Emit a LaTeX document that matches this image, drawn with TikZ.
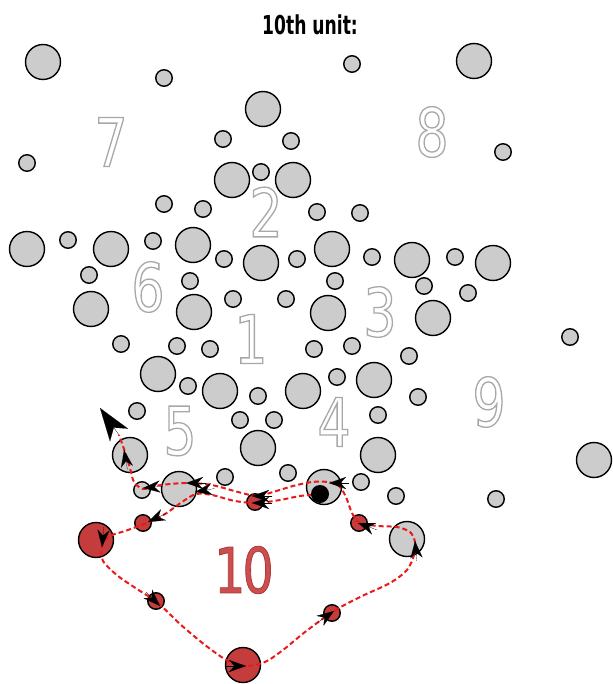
\documentclass[tikz,border=0pt]{standalone}
\usepackage{fontspec}
\usetikzlibrary{arrows.meta,calc}
\newfontfamily\titlefont[FakeStretch=0.66]{DejaVu Sans}
\newfontfamily\digitfont[FakeStretch=0.78]{DejaVu Sans}
\definecolor{cgray}{RGB}{204,204,204}
\definecolor{cred}{RGB}{196,60,60}
\definecolor{routered}{RGB}{235,25,25}
\definecolor{tenfill}{RGB}{205,78,78}
\newcommand\strokedtext[3]{\special{pdf:literal direct 2 Tr #1 w #2 RG}#3\special{pdf:literal direct 0 Tr}}
% #2 = direction in usual math orientation (0 right, 90 up); y axis points down here
\newcommand\tipmark[2]{\draw[smalltip] ($(#1)+({180-(#2)}:20)$) -- (#1);}
\begin{document}
\begin{tikzpicture}[x=1pt,y=-1pt,
  bigc/.style={circle, draw=black, line width=1.4pt, fill=cgray, minimum size=35pt, inner sep=0pt},
  smallc/.style={circle, draw=black, line width=1.4pt, fill=cgray, minimum size=16.5pt, inner sep=0pt},
  bigr/.style={bigc, fill=cred},
  smallr/.style={smallc, fill=cred},
  ghost/.style={text=white, font=\digitfont\fontsize{67}{67}\selectfont, inner sep=0pt},
  ten/.style={text=tenfill, font=\digitfont\fontsize{63}{63}\selectfont, inner sep=0pt},
  route/.style={draw=routered, line width=2pt, dash pattern=on 5pt off 3pt},
  smalltip/.style={draw=black, fill=black, line width=0.1pt, -{Stealth[length=17pt,width=12pt,inset=5.5pt]}},
  bigtip/.style={draw=black, fill=black, line width=0.1pt, -{Stealth[length=33pt,width=22pt,inset=9pt]}}]
\useasboundingbox (0,0) rectangle (612,684);
\fill[white] (0,0) rectangle (612,684);

\node[font=\titlefont\bfseries\fontsize{26}{26}\selectfont, inner sep=0pt] (title) at (310,25) {10th unit:};

% outlined digits
\node[ghost] (d7) at (111,142) {\strokedtext{1.3}{0.66 0.66 0.66}{7}};
\node[ghost] (d8) at (432,132) {\strokedtext{1.3}{0.66 0.66 0.66}{8}};
\node[ghost] (d2) at (266,212) {\strokedtext{1.3}{0.66 0.66 0.66}{2}};
\node[ghost] (d6) at (148,287) {\strokedtext{1.3}{0.66 0.66 0.66}{6}};
\node[ghost] (d3) at (380,312) {\strokedtext{1.3}{0.66 0.66 0.66}{3}};
\node[ghost] (d1) at (251,339) {\strokedtext{1.3}{0.66 0.66 0.66}{1}};
\node[ghost] (d5) at (180,431) {\strokedtext{1.3}{0.66 0.66 0.66}{5}};
\node[ghost] (d4) at (334,422) {\strokedtext{1.3}{0.66 0.66 0.66}{4}};
\node[ghost] (d9) at (489,402) {\strokedtext{1.3}{0.66 0.66 0.66}{9}};
\node[ten] (d10) at (244,570) {\strokedtext{0.8}{0.68 0.22 0.22}{1\kern-3pt 0}};

% big gray circles
\foreach \n/\x/\y in {g1/43/62, g4/474/61, g5/263/109, g10/232/180, g12/293/180,
  g17/27/249, g19/111/249, g21/193/245, g23/261/263, g25/332/249, g27/412/260, g29/493/263,
  g35/91/309, g36/194/312, g39/328/313, g40/433/318, g48/158/374, g50/220/391, g52/303/391,
  g54/374/380, g60/258/448, g61/378/455, g62/130/455, g64/179/489, g67/324/487, g70/407/539,
  g71/594/460}
  \node[bigc] (\n) at (\x,\y) {};
% small gray circles
\foreach \n/\x/\y in {g2/164/78, g3/352/64, g6/223/139, g7/291/141, g8/27/163, g9/503/152,
  g11/261/172, g13/164/204, g14/203/209, g15/317/212, g16/360/213, g18/68/240, g20/153/241,
  g22/224/259, g24/297/259, g26/372/257, g28/455/257, g30/89/275, g31/190/281, g32/335/281,
  g33/424/286, g34/468/293, g37/233/299, g38/286/299, g41/570/337, g42/121/344, g43/177/346,
  g44/210/349, g45/314/349, g46/352/346, g47/409/356, g49/188/386, g51/258/396, g53/337/377,
  g55/418/397, g56/137/411, g57/240/420, g58/274/420, g59/378/415, g63/142/490, g65/225/477,
  g66/288/473, g68/361/482, g69/396/496, g72/496/499}
  \node[smallc] (\n) at (\x,\y) {};
% red circles
\foreach \n/\x/\y in {r4/96/540, r7/243/665}
  \node[bigr] (\n) at (\x,\y) {};
\foreach \n/\x/\y in {r1/255/502, r2/143/523, r3/359/523, r5/156/601, r6/332/613}
  \node[smallr] (\n) at (\x,\y) {};

% start dot and arrow end
\coordinate (start) at (320,494);
\coordinate (tipbase) at (119,435);
\coordinate (tipend) at (100,408);

% route
\draw[route] plot[smooth, tension=0.5] coordinates {
  (start) (300,496) (280,500) (257,503) (235,501) (212,495) (196,494) (182,502) (165,514)
  (147,523) (125,531) (110,536) (102,546) (103,561) (118,576) (137,589) (158,603) (180,624)
  (205,645) (228,661) (246,666) (265,662) (283,650) (305,632) (334,611) (360,597) (390,583)
  (407,570) (414,555) (415,542) (410,532) (397,527) (378,526) (360,523) (352,513) (346,497)
  (339,486) (328,482) (312,482) (293,486) (273,492) (257,496) (238,492) (212,485) (190,483)
  (170,484) (155,486) (143,489) (134,482) (130,468) (125,452) (tipbase)};

\fill[black] (start) circle[radius=9];

% arrow marks
\tipmark{252,503}{180}
\tipmark{252,496}{180}
\tipmark{186,483}{180}
\tipmark{195,492}{190}
\tipmark{143,488}{185}
\tipmark{148,522}{205}
\tipmark{102,547}{265}
\tipmark{160,606}{315}
\tipmark{246,666}{0}
\tipmark{334,611}{35}
\tipmark{415,541}{95}
\tipmark{358,523}{160}
\tipmark{329,483}{180}
\tipmark{124,450}{100}
\draw[bigtip] (tipbase) -- (tipend);
\end{tikzpicture}
\end{document}
